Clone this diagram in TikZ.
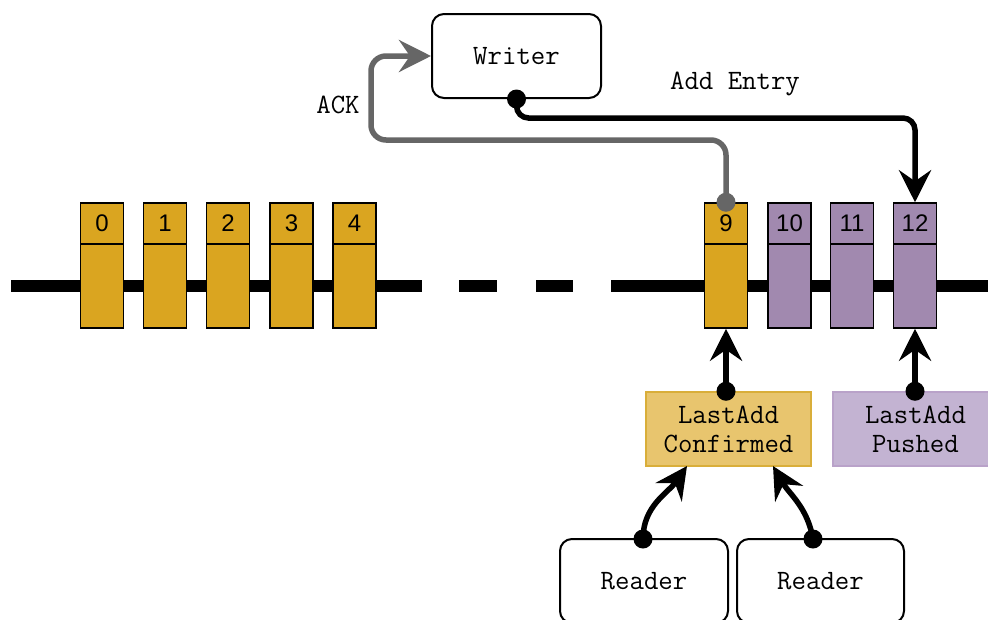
\documentclass[tikz,border=0pt]{standalone}
\usepackage{fontspec}
\setmainfont{Liberation Sans}
\usetikzlibrary{arrows.meta}
\definecolor{gold}{HTML}{DAA520}
\definecolor{purp}{HTML}{A189AF}
\definecolor{lgold}{HTML}{E8C56E}
\definecolor{lgoldb}{HTML}{D9AE3A}
\definecolor{lpurp}{HTML}{C3B3D2}
\definecolor{lpurpb}{HTML}{B9A2C9}
\definecolor{ackgray}{HTML}{666666}
\begin{document}
\begin{tikzpicture}[x=1pt,y=-1pt,
  blktop/.style={draw=black, line width=1.5pt, minimum width=43pt, minimum height=41pt, inner sep=0pt,
     font=\fontsize{24}{28}\selectfont},
  blkbody/.style={draw=black, line width=1.5pt, minimum width=43pt, minimum height=84pt, inner sep=0pt},
  rbox/.style={draw=black, line width=2pt, rounded corners=12pt, fill=white, inner sep=0pt,
     font=\ttfamily\fontsize{28}{29}\selectfont},
  mono/.style={font=\ttfamily\fontsize{28}{29}\selectfont, inner sep=0pt},
  stbox/.style={line width=1.5pt, minimum width=165pt, minimum height=74pt, inner sep=0pt, align=center,
     font=\ttfamily\fontsize{28}{29}\selectfont},
  tip/.tip={Stealth[length=32pt,width=32pt,inset=11pt]},
  conn/.style={line width=5.5pt, -tip},
  dot/.style={circle, fill, inner sep=0pt, minimum size=19pt},
  timeline/.style={line width=12pt}
]
\useasboundingbox (0,0) rectangle (988,619);
% timeline
\draw[timeline] (11,286) -- (422,286);
\draw[timeline] (459,286) -- (497,286);
\draw[timeline] (536,286) -- (573,286);
\draw[timeline] (611,286) -- (988,286);
% blocks
\foreach \n/\x/\c in {0/102/gold,1/165/gold,2/228/gold,3/291.5/gold,4/354.5/gold,9/726/gold,10/789.5/purp,11/852/purp,12/915/purp}{
  \node[blkbody, fill=\c] (b\n) at (\x,286) {};
  \node[blktop, fill=\c] (t\n) at (\x,223.5) {\n};
}
% writer
\node[rbox, minimum width=169pt, minimum height=84pt] (writer) at (516.5,56) {Writer};
% state boxes
\node[stbox, draw=lgoldb, fill=lgold] (lac) at (728.5,429) {LastAdd\\Confirmed};
\node[stbox, draw=lpurpb, fill=lpurp] (lap) at (915.5,429) {LastAdd\\Pushed};
% readers
\node[rbox, minimum width=168pt, minimum height=84pt] (r1) at (644,581) {Reader};
\node[rbox, minimum width=167pt, minimum height=84pt] (r2) at (820.5,581) {Reader};
% labels
\node[mono] (ack) at (338,105) {ACK};
\node[mono] (add) at (735,84) {Add Entry};
% ACK connector
\draw[conn, color=ackgray, rounded corners=15pt] (t9.north) |- (371,140) |- (writer.west);
\node[dot, fill=ackgray] at (t9.north) {};
% Add entry connector
\draw[conn, rounded corners=12pt] (writer.south) |- (700,118) -| (t12.north);
\node[dot] at (writer.south) {};
% state pointers
\coordinate (lacTop) at (t9.center |- lac.north);
\coordinate (lapTop) at (t12.center |- lap.north);
\draw[conn] (lacTop) -- (b9.south);
\node[dot] at (lacTop) {};
\draw[conn] (lapTop) -- (b12.south);
\node[dot] at (lapTop) {};
% readers to LAC
\coordinate (r1s) at (643,539);
\coordinate (r2s) at (813,539);
\coordinate (lin1) at (687,466);
\coordinate (lin2) at (773,466);
\draw[conn] (r1s) to[out=90,in=235] (lin1);
\node[dot] at (r1s) {};
\draw[conn] (r2s) to[out=100,in=300] (lin2);
\node[dot] at (r2s) {};
\end{tikzpicture}
\end{document}
